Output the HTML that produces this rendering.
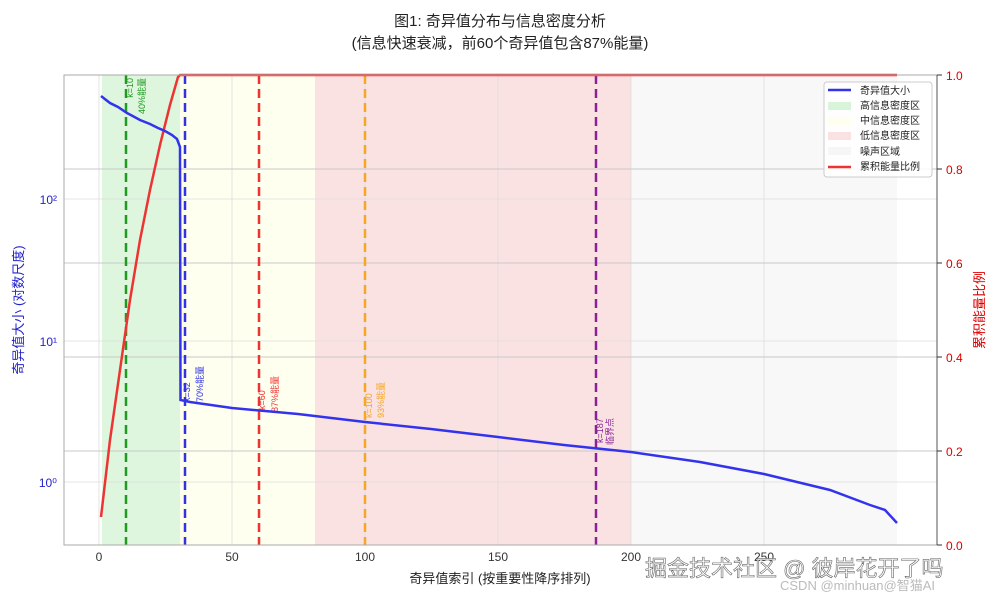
<!DOCTYPE html>
<html><head><meta charset="utf-8"><style>
body{margin:0;background:#fff}
text{font-family:"Liberation Sans","Noto Sans CJK SC",sans-serif}
</style></head><body>
<svg width="1000" height="600" viewBox="0 0 1000 600" xmlns="http://www.w3.org/2000/svg">
<rect width="1000" height="600" fill="#fff"/>
<text x="500" y="26" text-anchor="middle" font-size="15" fill="#222">图1: 奇异值分布与信息密度分析</text>
<text x="500" y="48" text-anchor="middle" font-size="15" fill="#222">(信息快速衰减，前60个奇异值包含87%能量)</text>
<rect x="102" y="75" width="78" height="470" fill="#d9f5d9" opacity="0.9"/>
<rect x="180" y="75" width="135" height="470" fill="#fffff0"/>
<rect x="315" y="75" width="316" height="470" fill="#fbe2e2"/>
<rect x="631" y="75" width="266" height="470" fill="#f8f8f8"/>
<g stroke="#ddd" stroke-width="0.8">
<line x1="99" y1="75" x2="99" y2="545"/><line x1="232" y1="75" x2="232" y2="545"/><line x1="365" y1="75" x2="365" y2="545"/><line x1="498" y1="75" x2="498" y2="545"/><line x1="631" y1="75" x2="631" y2="545"/><line x1="764" y1="75" x2="764" y2="545"/>
<line x1="64" y1="199" x2="937" y2="199"/><line x1="64" y1="341" x2="937" y2="341"/><line x1="64" y1="482" x2="937" y2="482"/>
</g>
<g stroke="#c8c8c8" stroke-width="1">
<line x1="64" y1="169" x2="937" y2="169"/><line x1="64" y1="263" x2="937" y2="263"/><line x1="64" y1="357" x2="937" y2="357"/><line x1="64" y1="451" x2="937" y2="451"/>
</g>
<g stroke-width="2.5" stroke-dasharray="9,5">
<line x1="126" y1="75" x2="126" y2="545" stroke="#229922"/>
<line x1="185" y1="75" x2="185" y2="545" stroke="#3333dd"/>
<line x1="259" y1="75" x2="259" y2="545" stroke="#ee3333"/>
<line x1="365" y1="75" x2="365" y2="545" stroke="#f5a623"/>
<line x1="596" y1="75" x2="596" y2="545" stroke="#882299"/>
</g>
<g font-size="9">
<text transform="translate(133,78) rotate(-90)" text-anchor="end" fill="#229922">k=10</text>
<text transform="translate(145,78) rotate(-90)" text-anchor="end" fill="#229922">40%能量</text>
<text transform="translate(190,402) rotate(-90)" fill="#3333dd">k=32</text>
<text transform="translate(203,402) rotate(-90)" fill="#3333dd">70%能量</text>
<text transform="translate(265,410) rotate(-90)" fill="#ee3333">k=60</text>
<text transform="translate(278,412) rotate(-90)" fill="#ee3333">87%能量</text>
<text transform="translate(372,418) rotate(-90)" fill="#f5a623">k=100</text>
<text transform="translate(384,418) rotate(-90)" fill="#f5a623">93%能量</text>
<text transform="translate(603,443) rotate(-90)" fill="#882299">k=187</text>
<text transform="translate(613,445) rotate(-90)" fill="#882299">临界点</text>
</g>
<polyline fill="none" stroke="#ee3333" stroke-width="2.5" points="101,517 110,440 120,370 130,300 140,240 150,190 160,145 170,105 178,77 180,75 897,75"/>
<polyline fill="none" stroke="#3333ee" stroke-width="2.5" points="101,96 110,103 118,107 127,113 140,120 150,124 158,128 165,131 172,135 177,139 180,147 180.5,400 190,402 232,408 298,414 365,422 431,429 498,437 564,445 631,452 700,462 764,474 830,490 870,505 885,510 897,523"/>
<rect x="64" y="75" width="873" height="470" fill="none" stroke="#aaa" stroke-width="1"/>
<line x1="937" y1="75" x2="937" y2="545" stroke="#555"/>
<g font-size="12" fill="#333" text-anchor="middle">
<text x="99" y="561">0</text><text x="232" y="561">50</text><text x="365" y="561">100</text><text x="498" y="561">150</text><text x="631" y="561">200</text><text x="764" y="561">250</text>
</g>
<text x="500" y="583" text-anchor="middle" font-size="13" fill="#222">奇异值索引 (按重要性降序排列)</text>
<g font-size="12" fill="#2222cc" text-anchor="end">
<text x="57" y="204">10²</text><text x="57" y="346">10¹</text><text x="57" y="487">10⁰</text>
</g>
<text transform="translate(23,310) rotate(-90)" text-anchor="middle" font-size="13" fill="#2222cc">奇异值大小 (对数尺度)</text>
<g font-size="12" fill="#dd0000">
<text x="946" y="80">1.0</text><text x="946" y="174">0.8</text><text x="946" y="268">0.6</text><text x="946" y="362">0.4</text><text x="946" y="456">0.2</text><text x="946" y="550">0.0</text>
</g>
<g stroke="#333"><line x1="937" y1="75" x2="942" y2="75"/><line x1="937" y1="169" x2="942" y2="169"/><line x1="937" y1="263" x2="942" y2="263"/><line x1="937" y1="357" x2="942" y2="357"/><line x1="937" y1="451" x2="942" y2="451"/><line x1="937" y1="545" x2="942" y2="545"/></g>
<text transform="translate(984,310) rotate(-90)" text-anchor="middle" font-size="13" fill="#dd0000">累积能量比例</text>
<rect x="824" y="82" width="108" height="95" rx="3" fill="#fff" fill-opacity="0.85" stroke="#ccc"/>
<g font-size="10" fill="#222">
<line x1="828" y1="90" x2="851" y2="90" stroke="#3333ee" stroke-width="2.5"/><text x="860" y="94">奇异值大小</text>
<rect x="828" y="102" width="23" height="8" fill="#d9f5d9"/><text x="860" y="109">高信息密度区</text>
<rect x="828" y="117" width="23" height="8" fill="#fffff0"/><text x="860" y="124">中信息密度区</text>
<rect x="828" y="132" width="23" height="8" fill="#fbe2e2"/><text x="860" y="139">低信息密度区</text>
<rect x="828" y="147" width="23" height="8" fill="#f6f6f6"/><text x="860" y="155">噪声区域</text>
<line x1="828" y1="167" x2="851" y2="167" stroke="#ee3333" stroke-width="2.5"/><text x="860" y="170">累积能量比例</text>
</g>
<text x="645" y="576" font-size="22" fill="#fff" stroke="#555" stroke-width="0.6" opacity="0.9">掘金技术社区 @ 彼岸花开了吗</text>
<text x="780" y="590" font-size="13" fill="#bbb">CSDN @minhuan@智猫AI</text>
</svg>
</body></html>
